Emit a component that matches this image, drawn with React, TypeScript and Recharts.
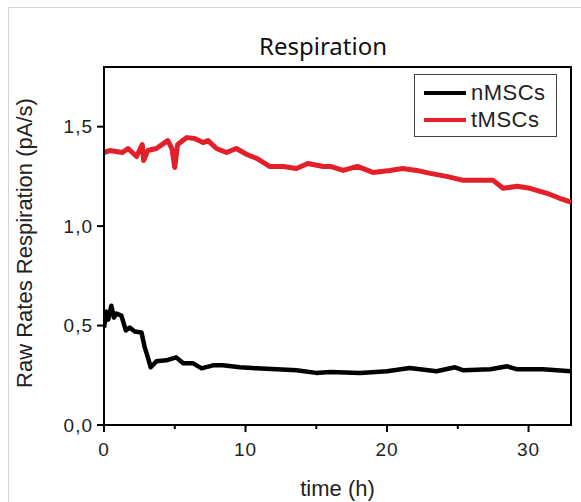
import React from "react";
import {
  LineChart,
  Line,
  XAxis,
  YAxis,
  ReferenceArea,
} from "recharts";

// tMSCs (red) – time in hours, raw respiration rate in pA/s
const tTime = [0, 0.4, 1.3, 1.7, 2.3, 2.7, 2.8, 3.1, 3.7, 4.5, 4.8, 5.0, 5.2, 5.85, 6.4, 7.0, 7.35, 7.95, 8.65, 9.35, 10.1, 10.8, 11.7, 12.65, 13.6, 14.4, 15.5, 16.0, 16.9, 17.9, 19.0, 20.2, 21.1, 22.1, 23.05, 24.2, 25.4, 26.6, 27.5, 28.2, 29.2, 30.1, 31.3, 32.2, 33.0];
const tValues = [1.37, 1.38, 1.37, 1.39, 1.35, 1.41, 1.33, 1.38, 1.39, 1.43, 1.39, 1.295, 1.41, 1.445, 1.44, 1.42, 1.43, 1.39, 1.37, 1.39, 1.36, 1.34, 1.3, 1.3, 1.29, 1.315, 1.3, 1.3, 1.28, 1.3, 1.27, 1.28, 1.29, 1.28, 1.265, 1.25, 1.23, 1.23, 1.23, 1.19, 1.2, 1.19, 1.165, 1.14, 1.12];

// nMSCs (black)
const nTime = [0, 0.17, 0.3, 0.52, 0.7, 0.88, 1.23, 1.54, 1.82, 2.17, 2.65, 2.88, 3.12, 3.3, 3.7, 4.4, 5.1, 5.6, 6.3, 6.9, 7.7, 8.4, 9.6, 10.8, 12.2, 13.6, 15.0, 16.0, 18.1, 20.0, 21.6, 23.5, 24.8, 25.4, 27.3, 28.5, 29.2, 31.0, 33.0];
const nValues = [0.49, 0.57, 0.53, 0.6, 0.54, 0.56, 0.55, 0.476, 0.49, 0.47, 0.465, 0.39, 0.335, 0.29, 0.32, 0.325, 0.34, 0.31, 0.31, 0.285, 0.3, 0.3, 0.29, 0.285, 0.28, 0.275, 0.262, 0.267, 0.262, 0.27, 0.287, 0.27, 0.29, 0.275, 0.28, 0.295, 0.28, 0.28, 0.27];

const xTicks = [0, 5, 10, 15, 20, 25, 30];
const yTicks = [0, 0.5, 1.0, 1.5];
const seriesNames = ["nMSCs", "tMSCs"];
const seriesColors = ["#000000", "#e3202a"];

const tData = tTime.map((t, i) => ({ t, v: tValues[i] }));
const nData = nTime.map((t, i) => ({ t, v: nValues[i] }));

const FONT = "'Liberation Sans', Arial, sans-serif";

function XTick(props: any) {
  const { x, y, payload } = props;
  const major = payload.value % 10 === 0;
  return (
    <g>
      <line x1={x} x2={x} y1={y} y2={y + (major ? 7 : 4)} stroke="#000" strokeWidth={2} />
      {major && (
        <text x={x} y={y + 31} textAnchor="middle" fontSize={19} fontFamily={FONT} fill="#222" letterSpacing={1}>
          {payload.value}
        </text>
      )}
    </g>
  );
}

function LegendBox() {
  return (
    <div
      style={{
        position: "absolute",
        left: 414,
        top: 74,
        border: "1px solid #444",
        width: 143,
        height: 63,
        boxSizing: "border-box",
        fontFamily: FONT,
        fontSize: 22,
        color: "#222",
        padding: "4px 0 0 9px",
        background: "#fff",
      }}
    >
      {seriesNames.map((name, i) => (
        <div key={name} style={{ display: "flex", alignItems: "center", height: 27 }}>
          <div style={{ width: 42, height: 4, background: seriesColors[i], marginRight: 5 }} />
          <span style={{ letterSpacing: 0.5 }}>{name}</span>
        </div>
      ))}
    </div>
  );
}

export default function App() {
  return (
    <div style={{ position: "absolute", left: 0, top: 0, width: 581, height: 502, overflow: "hidden", background: "#fff" }}>
      <div style={{ position: "absolute", left: 8, top: 7, width: 700, height: 700, borderLeft: "1px solid #d4d4d4", borderTop: "1px solid #d4d4d4" }} />
      <div style={{ position: "absolute", left: 323, top: 29, transform: "translateX(-50%)", fontFamily: "'Noto Sans', sans-serif", fontSize: 24, color: "#111", whiteSpace: "nowrap" }}>
        Respiration
      </div>
      <div style={{ position: "absolute", left: 0, top: 0 }}>
        <LineChart width={581} height={502} margin={{ top: 67, right: 10, bottom: 0, left: 0 }}>
          <XAxis
            dataKey="t"
            type="number"
            domain={[0, 33]}
            ticks={xTicks}
            allowDataOverflow
            height={77}
            tickSize={0}
            tickMargin={0}
            tickLine={false}
            tick={<XTick />}
            axisLine={{ stroke: "#000", strokeWidth: 2 }}
            label={{ value: "time (h)", position: "insideBottom", offset: 6, fontSize: 22, fontFamily: FONT, fill: "#222" }}
          />
          <YAxis
            type="number"
            domain={[0, 1.8]}
            ticks={yTicks}
            width={104}
            allowDataOverflow
            tickSize={7}
            tickMargin={4}
            tickLine={{ stroke: "#000", strokeWidth: 2 }}
            axisLine={{ stroke: "#000", strokeWidth: 2 }}
            tick={{ fontSize: 19, fontFamily: FONT, fill: "#222", letterSpacing: 1 }}
            tickFormatter={(v: number) => v.toFixed(1).replace(".", ",")}
            label={{
              content: () => (
                <text x={24} y={243} transform="rotate(-90 24 243)" textAnchor="middle" dominantBaseline="central" fontSize={22} fontFamily={FONT} fill="#222">
                  Raw Rates Respiration (pA/s)
                </text>
              ),
            }}
          />
          <ReferenceArea x1={0} x2={33} y1={0} y2={1.8} fill="none" stroke="#000" strokeWidth={2} ifOverflow="visible" />
          <Line data={nData} dataKey="v" name={seriesNames[0]} stroke={seriesColors[0]} strokeWidth={4.5} dot={false} type="linear" isAnimationActive={false} strokeLinejoin="round" />
          <Line data={tData} dataKey="v" name={seriesNames[1]} stroke={seriesColors[1]} strokeWidth={5} dot={false} type="linear" isAnimationActive={false} strokeLinejoin="round" />
        </LineChart>
      </div>
      <LegendBox />
    </div>
  );
}
